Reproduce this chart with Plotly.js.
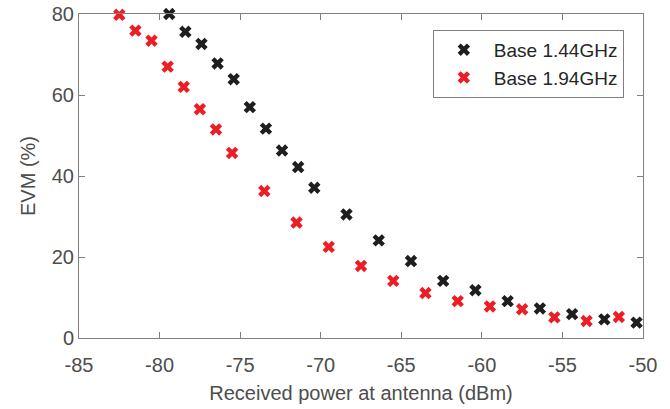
<!DOCTYPE html>
<html><head><meta charset="utf-8">
<script src="https://cdn.plot.ly/plotly-3.0.1.min.js"></script>
<style>html,body{margin:0;padding:0;background:#fff}#chart{width:670px;height:409px}</style>
</head><body><div id="chart"></div>
<script>
const seriesNames = ["Base 1.44GHz", "Base 1.94GHz"];
const power144 = [-79.4,-78.4,-77.4,-76.4,-75.4,-74.4,-73.4,-72.4,-71.4,-70.4,-68.4,-66.4,-64.4,-62.4,-60.4,-58.4,-56.4,-54.4,-52.4,-50.4];
const evm144 = [80.0,75.6,72.6,67.8,63.9,57.0,51.7,46.3,42.2,37.1,30.5,24.1,19.0,14.1,11.8,9.1,7.3,5.9,4.6,3.8];
const power194 = [-82.5,-81.5,-80.5,-79.5,-78.5,-77.5,-76.5,-75.5,-73.5,-71.5,-69.5,-67.5,-65.5,-63.5,-61.5,-59.5,-57.5,-55.5,-53.5,-51.5];
const evm194 = [79.8,75.9,73.4,67.0,62.0,56.5,51.5,45.7,36.3,28.5,22.5,17.8,14.1,11.1,9.1,7.8,7.1,5.1,4.2,5.2];
const xTicks = [-85,-80,-75,-70,-65,-60,-55,-50];
const yTicks = [0,20,40,60,80];

const font = "Liberation Sans, Arial, sans-serif";
const traces = [
  {x: power144, y: evm144, name: seriesNames[0], type: "scatter", mode: "markers",
   marker: {symbol: "x", size: 11, color: "#1e1e1e", line: {width: 0}}, cliponaxis: false},
  {x: power194, y: evm194, name: seriesNames[1], type: "scatter", mode: "markers",
   marker: {symbol: "x", size: 11, color: "#ee1c25", line: {width: 0}}, cliponaxis: false}
];
const axisCommon = {
  showline: true, linecolor: "#808080", linewidth: 1, mirror: "ticks",
  ticks: "inside", ticklen: 6, tickcolor: "#808080", tickwidth: 1,
  showgrid: false, zeroline: false,
  tickfont: {family: font, size: 20, color: "#4d4d4d"}
};
const layout = {
  width: 670, height: 409,
  margin: {l: 79, r: 27, t: 14, b: 71},
  paper_bgcolor: "#fff", plot_bgcolor: "#fff",
  font: {family: font, color: "#4d4d4d"},
  xaxis: Object.assign({}, axisCommon, {
    range: [-85, -50], tickvals: xTicks, ticktext: xTicks.map(String),
    ticklabelstandoff: 9,
    title: {text: "Received power at antenna (dBm)", font: {family: font, size: 20, color: "#4d4d4d"}, standoff: 10}
  }),
  yaxis: Object.assign({}, axisCommon, {
    range: [0, 80], tickvals: yTicks, ticktext: yTicks.map(String),
    title: {text: "EVM (%)", font: {family: font, size: 20, color: "#4d4d4d"}, standoff: 10}
  }),
  showlegend: true,
  legend: {x: 0.966, xanchor: "right", y: 0.951, yanchor: "top",
    bgcolor: "#fff", bordercolor: "#808080", borderwidth: 1,
    font: {family: font, size: 19, color: "#262626"}, itemwidth: 50, tracegroupgap: 0}
};
Plotly.newPlot("chart", traces, layout, {staticPlot: true, displayModeBar: false});
</script></body></html>
